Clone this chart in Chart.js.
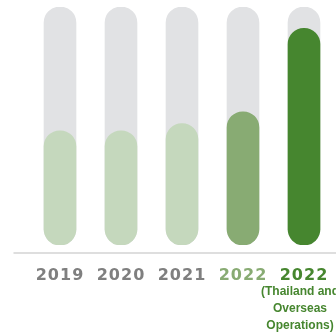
<!DOCTYPE html>
<html>
<head>
<meta charset="utf-8">
<script src="https://cdn.jsdelivr.net/npm/chart.js@4.4.1/dist/chart.umd.min.js"></script>
<style>
html,body{margin:0;padding:0;background:#fff;}
#wrap{width:336px;height:335px;}
</style>
</head>
<body>
<div id="wrap"><canvas id="c" width="336" height="335"></canvas></div>
<script>
const categories = ['2019', '2020', '2021', '2022', '2022'];
const values = [48, 48, 51, 56, 91];
const maxValues = [100, 100, 100, 100, 100];
const subLabel = ['(Thailand and', 'Overseas', 'Operations)'];
const subLabelIndex = 4;

const barColors = ['#c5d8bd', '#c5d8bd', '#c5d8bd', '#88ab73', '#46862f'];
const labelColors = ['#7f7f7f', '#7f7f7f', '#7f7f7f', '#88ab73', '#46862f'];

const extras = {
  id: 'extras',
  beforeDraw(chart) {
    chart.ctx.letterSpacing = '1px';
  },
  afterDraw(chart) {
    const ctx = chart.ctx;
    const area = chart.chartArea;
    ctx.save();
    ctx.strokeStyle = '#d3d3d3';
    ctx.lineWidth = 1.5;
    ctx.beginPath();
    ctx.moveTo(area.left - 16, area.bottom + 8);
    ctx.lineTo(chart.width, area.bottom + 8);
    ctx.stroke();
    const x = chart.scales.x.getPixelForValue(subLabelIndex);
    ctx.letterSpacing = '0px';
    ctx.fillStyle = '#46862f';
    ctx.font = 'bold 12px "Liberation Sans", Arial, sans-serif';
    ctx.textAlign = 'center';
    ctx.textBaseline = 'middle';
    subLabel.forEach((t, i) => ctx.fillText(t, x - 4, area.bottom + 47 + i * 17));
    ctx.restore();
  }
};

new Chart(document.getElementById('c'), {
  type: 'bar',
  data: {
    labels: categories,
    datasets: [
      {
        data: values,
        backgroundColor: barColors,
        borderRadius: 16,
        borderSkipped: false,
        barThickness: 32,
        grouped: false
      },
      {
        data: maxValues,
        backgroundColor: '#e1e2e4',
        borderRadius: 16,
        borderSkipped: false,
        barThickness: 32,
        grouped: false
      }
    ]
  },
  options: {
    responsive: false,
    animation: false,
    events: [],
    layout: { padding: { top: 7, left: 29.5, right: 1.5, bottom: 52 } },
    plugins: { legend: { display: false }, tooltip: { enabled: false } },
    scales: {
      y: { display: false, min: 0, max: 100 },
      x: {
        grid: { display: false, drawTicks: false },
        border: { display: false },
        afterFit: (s) => { s.height = 38; s.paddingLeft = 0; s.paddingRight = 0; },
        ticks: {
          padding: 21,
          maxRotation: 0,
          autoSkip: false,
          color: (c) => labelColors[c.index],
          font: { family: '"DejaVu Sans", sans-serif', size: 16, weight: 'bold' }
        }
      }
    }
  },
  plugins: [extras]
});
</script>
</body>
</html>
